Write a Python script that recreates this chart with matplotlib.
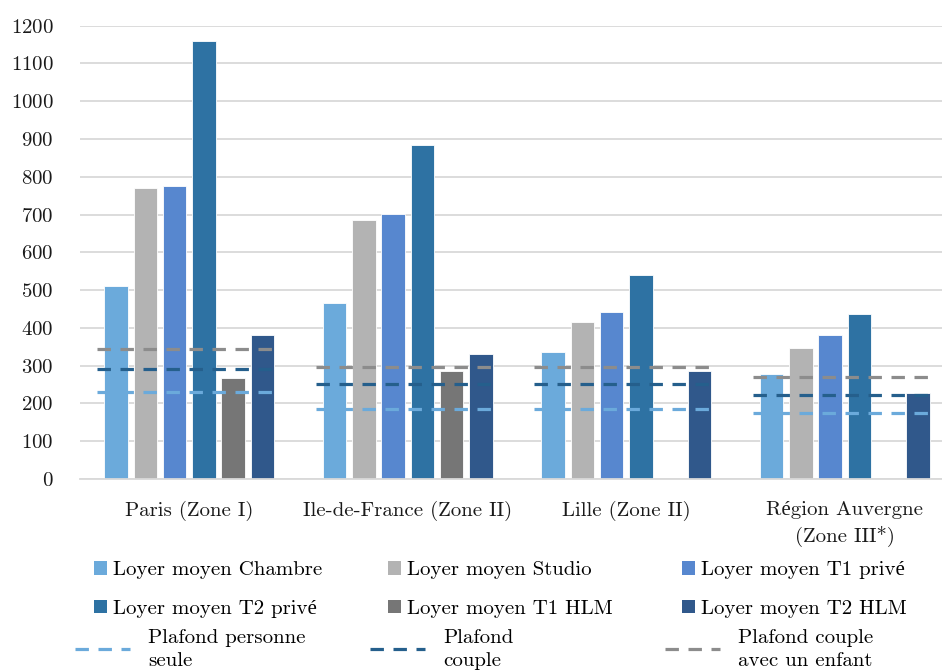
import numpy as np
import matplotlib
matplotlib.use('Agg')
import matplotlib.pyplot as plt
from matplotlib.patches import Patch
from matplotlib.lines import Line2D

plt.rcParams['font.family'] = ['cmr10', 'Liberation Serif']
plt.rcParams['axes.formatter.use_mathtext'] = True

# categories
categories = ['Paris (Zone I)', 'Ile-de-France (Zone II)', 'Lille (Zone II)',
              'Région Auvergne\n(Zone III*)']

# average rents (NaN = no data)
chambre  = [511, 465, 336, 279]
studio   = [770, 686, 415, 347]
t1_prive = [776, 702, 442, 381]
t2_prive = [1160, 883, 539, 438]
t1_hlm   = [267, 285, np.nan, np.nan]
t2_hlm   = [381, 331, 285, 228]

# ceilings
plafond_seul   = [229, 185, 185, 174]
plafond_couple = [291, 251, 251, 223]
plafond_enfant = [343, 296, 296, 269]

bar_series = [
    ('Loyer moyen Chambre', chambre, '#6baadb'),
    ('Loyer moyen Studio', studio, '#b3b3b3'),
    ('Loyer moyen T1 privé', t1_prive, '#5787cf'),
    ('Loyer moyen T2 privé', t2_prive, '#2e72a3'),
    ('Loyer moyen T1 HLM', t1_hlm, '#767676'),
    ('Loyer moyen T2 HLM', t2_hlm, '#30588b'),
]
line_series = [
    ('Plafond personne\nseule', plafond_seul, '#6baadb'),
    ('Plafond\ncouple', plafond_couple, '#255f8c'),
    ('Plafond couple\navec un enfant', plafond_enfant, '#8c8c8c'),
]

FS = 15

fig = plt.figure(figsize=(9.42, 6.71), dpi=100)
ax = fig.add_axes([80 / 942, 192 / 671, 874 / 942, 453.3 / 671])

x = np.arange(len(categories))
step = 0.134
width = 0.107
for i, (name, vals, col) in enumerate(bar_series):
    ax.bar(x + (i - 2.5) * step, vals, width, color=col, edgecolor='white',
           linewidth=0.6, zorder=2)

for name, vals, col in line_series:
    for xi, v in zip(x, vals):
        ax.plot([xi - 0.42, xi + 0.42], [v, v], color=col, lw=2.3,
                dashes=(4.2, 3.0), zorder=3, solid_capstyle='butt',
                dash_capstyle='butt')

ax.set_xlim(-0.5, len(categories) - 0.5)
ax.set_ylim(0, 1200)
ax.set_yticks(range(0, 1201, 100))
ax.yaxis.grid(True, color='#d9d9d9', lw=1.3)
ax.set_axisbelow(True)
for s in ['top', 'right', 'left']:
    ax.spines[s].set_visible(False)
ax.spines['bottom'].set_color('#d9d9d9')
ax.spines['bottom'].set_linewidth(1.3)
ax.tick_params(axis='both', length=0, labelsize=FS, colors='#1a1a1a')
ax.tick_params(axis='y', pad=19)
ax.set_xticks(x)
ax.set_xticklabels(categories, va='top', linespacing=1.4)
ax.tick_params(axis='x', pad=16)

# legend, one block per column (bars: two rows, lines: one row)
col_x_bars = [94, 388, 682]
col_x_lines = [75, 370, 665]
for c in range(3):
    pair = [bar_series[c], bar_series[c + 3]]
    leg = fig.legend([Patch(facecolor=s[2]) for s in pair], [s[0] for s in pair],
                     loc='upper left',
                     bbox_to_anchor=(col_x_bars[c] / 942, 1 - 561 / 671),
                     frameon=False, fontsize=FS, handlelength=0.62,
                     handleheight=0.62, handletextpad=0.3, labelspacing=1.0,
                     borderaxespad=0, borderpad=0)
    name, vals, col = line_series[c]
    leg2 = fig.legend([Line2D([], [], color=col, lw=2.3, dashes=(4.2, 3.0))],
                      [name], loc='upper left',
                      bbox_to_anchor=(col_x_lines[c] / 942, 1 - 629 / 671),
                      frameon=False, fontsize=FS, handlelength=2.65,
                      handletextpad=0.85, borderaxespad=0, borderpad=0)
    for t in leg2.get_texts():
        t.set_linespacing(1.35)

fig.savefig('out.png', dpi=100)
